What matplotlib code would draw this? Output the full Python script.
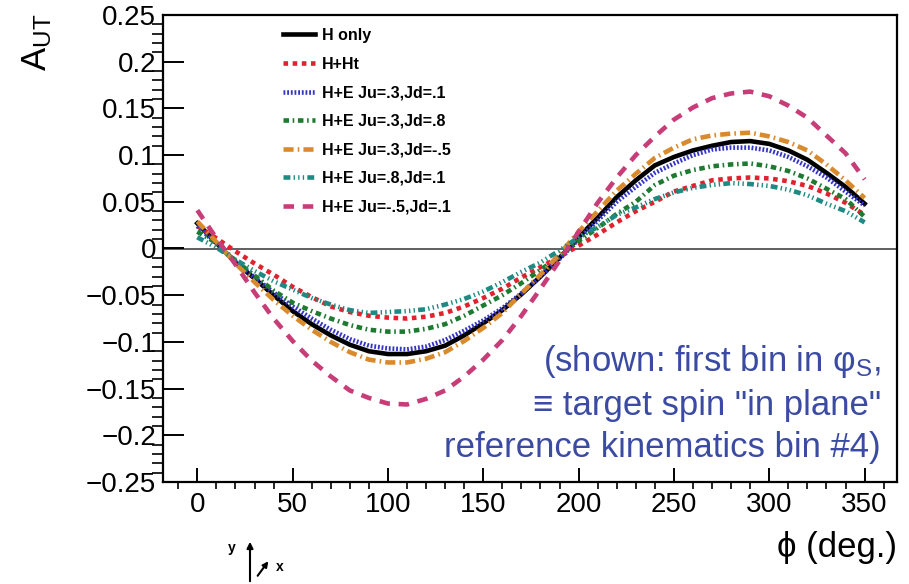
import numpy as np
import matplotlib
matplotlib.use("Agg")
import matplotlib.pyplot as plt
from matplotlib.ticker import MultipleLocator, FuncFormatter

plt.rcParams['font.family'] = ['Liberation Sans', 'DejaVu Sans']
plt.rcParams['mathtext.fontset'] = 'custom'
plt.rcParams['mathtext.rm'] = 'Liberation Sans'
plt.rcParams['mathtext.it'] = 'Liberation Sans'

# -------- DATA (every 10 deg) ----------------------------------------
phi = list(range(0, 360, 10))

h_only = [0.027, 0.006, -0.015, -0.032, -0.050, -0.067, -0.081, -0.093, -0.103, -0.110,
          -0.113, -0.113, -0.110, -0.104, -0.093, -0.080, -0.066, -0.049, -0.030, -0.010,
          0.012, 0.033, 0.055, 0.073, 0.089, 0.098, 0.105, 0.110, 0.114, 0.115,
          0.112, 0.105, 0.095, 0.081, 0.066, 0.048]
h_ht = [0.024, 0.011, -0.003, -0.016, -0.028, -0.041, -0.052, -0.062, -0.068, -0.072,
        -0.074, -0.075, -0.073, -0.069, -0.062, -0.053, -0.043, -0.031, -0.020, -0.009,
        0.003, 0.015, 0.028, 0.040, 0.050, 0.061, 0.067, 0.073, 0.075, 0.076,
        0.075, 0.072, 0.067, 0.059, 0.049, 0.036]
he_3_1 = [0.024, 0.005, -0.014, -0.031, -0.047, -0.062, -0.075, -0.087, -0.097, -0.104,
          -0.107, -0.108, -0.105, -0.098, -0.088, -0.077, -0.064, -0.048, -0.030, -0.011,
          0.010, 0.030, 0.050, 0.066, 0.081, 0.091, 0.100, 0.106, 0.108, 0.108,
          0.105, 0.098, 0.088, 0.076, 0.061, 0.046]
he_3_8 = [0.018, 0.006, -0.013, -0.029, -0.045, -0.058, -0.067, -0.075, -0.082, -0.087,
          -0.089, -0.089, -0.086, -0.081, -0.072, -0.061, -0.050, -0.037, -0.023, -0.008,
          0.008, 0.022, 0.037, 0.050, 0.068, 0.078, 0.084, 0.088, 0.090, 0.091,
          0.088, 0.083, 0.075, 0.064, 0.053, 0.034]
he_3_m5 = [0.029, 0.007, -0.016, -0.036, -0.055, -0.072, -0.087, -0.100, -0.111, -0.119,
           -0.122, -0.122, -0.118, -0.111, -0.099, -0.085, -0.069, -0.048, -0.028, -0.006,
           0.018, 0.040, 0.062, 0.080, 0.097, 0.108, 0.117, 0.121, 0.123, 0.124,
           0.120, 0.114, 0.105, 0.090, 0.073, 0.054]
he_8_1 = [0.012, 0.001, -0.012, -0.024, -0.035, -0.044, -0.053, -0.060, -0.066, -0.069,
          -0.068, -0.067, -0.065, -0.060, -0.054, -0.046, -0.036, -0.025, -0.015, -0.002,
          0.012, 0.023, 0.036, 0.044, 0.053, 0.060, 0.065, 0.068, 0.070, 0.069,
          0.067, 0.063, 0.057, 0.048, 0.040, 0.028]
he_m5_1 = [0.041, 0.011, -0.017, -0.047, -0.075, -0.099, -0.120, -0.137, -0.152, -0.160,
           -0.166, -0.167, -0.161, -0.152, -0.137, -0.119, -0.098, -0.072, -0.043, -0.013,
           0.018, 0.049, 0.076, 0.100, 0.120, 0.138, 0.151, 0.161, 0.166, 0.168,
           0.163, 0.153, 0.140, 0.121, 0.102, 0.074]

labels = ["H only", "H+Ht", "H+E Ju=.3,Jd=.1", "H+E Ju=.3,Jd=.8",
          "H+E Ju=.3,Jd=-.5", "H+E Ju=.8,Jd=.1", "H+E Ju=-.5,Jd=.1"]
# ---------------------------------------------------------------------

series = [h_only, h_ht, he_3_1, he_3_8, he_3_m5, he_8_1, he_m5_1]
colors = ["black", "#e0222e", "#3434c8", "#1e7a30", "#d98a2c", "#1f8a84", "#c73d78"]
dashes = [None, (1, 1), (0.4, 0.4), (1.2, 0.8, 0.35, 0.8), (2.2, 0.9, 0.35, 0.9),
          (1.5, 0.7, 0.3, 0.7, 0.3, 0.7, 0.3, 0.7), (2.3, 1.9)]

fig = plt.figure(figsize=(9.09, 5.84), dpi=100)
ax = fig.add_axes([163 / 909, 1 - 482 / 584, (897 - 163) / 909, (482 - 15) / 584])

ax.axhline(0, color="#444444", lw=1.2, zorder=1)

for y, lab, c, d in zip(series, labels, colors, dashes):
    line, = ax.plot(phi, y, color=c, lw=3.3, label=lab, zorder=3)
    if d is not None:
        line.set_dashes(d)
        line.set_dash_capstyle("butt")


def ytick_fmt(v, pos):
    v = round(v, 4)
    if v == 0:
        return "0"
    return f"{v:g}".replace("-", "\u2212")


ax.set_xlim(-18, 367)
ax.set_ylim(-0.25, 0.25)
ax.xaxis.set_major_locator(MultipleLocator(50))
ax.xaxis.set_minor_locator(MultipleLocator(10))
ax.yaxis.set_major_locator(MultipleLocator(0.05))
ax.yaxis.set_minor_locator(MultipleLocator(0.01))
ax.yaxis.set_major_formatter(FuncFormatter(ytick_fmt))
ax.tick_params(axis="both", direction="in", labelsize=20, width=1.4, colors="black")
ax.tick_params(axis="y", which="major", length=15, pad=5)
ax.tick_params(axis="y", which="minor", length=8, width=1.2)
ax.tick_params(axis="x", which="major", length=10, pad=7)
ax.tick_params(axis="x", which="minor", length=5, width=1.2)
for s in ax.spines.values():
    s.set_linewidth(1.6)

leg = ax.legend(loc="upper left", bbox_to_anchor=(283 / 909, 1 - 28 / 584),
                bbox_transform=fig.transFigure, frameon=False, borderpad=0,
                borderaxespad=0, handlelength=2.0, handletextpad=0.45,
                labelspacing=0.85, prop={"size": 11.5, "weight": "bold"})

fig.text(37 / 909, 1 - 42 / 584, r"A$_{\mathrm{UT}}$", rotation=90,
         fontsize=25, ha="center", va="center")
fig.text(897 / 909, 1 - 547 / 584, "\u03d5 (deg.)", fontsize=25,
         ha="right", va="center")

ax.text(0.978, 0.168,
        "(shown: first bin in \u03c6$_{\\mathrm{S}}$,\n"
        "\u2261 target spin \"in plane\"\n"
        "reference kinematics bin #4)",
        transform=ax.transAxes, ha="right", va="center", fontsize=25,
        color="#3b4ba3", linespacing=1.33, zorder=5)

# small coordinate glyph under the axis
fig.text(232 / 909, 1 - 548 / 584, "y", fontsize=10, fontweight="bold",
         ha="center", va="center")
fig.text(280 / 909, 1 - 567 / 584, "x", fontsize=10, fontweight="bold",
         ha="center", va="center")
fig.add_artist(matplotlib.patches.FancyArrowPatch(
    (250 / 909, 0.0), (250 / 909, 1 - 539 / 584), transform=fig.transFigure,
    arrowstyle="-|>", mutation_scale=9, lw=1.5, color="black"))
fig.add_artist(matplotlib.patches.FancyArrowPatch(
    (256 / 909, 1 - 578 / 584), (270 / 909, 1 - 559 / 584), transform=fig.transFigure,
    arrowstyle="-|>", mutation_scale=8, lw=1.5, color="black"))

fig.savefig("out.png", dpi=100)
